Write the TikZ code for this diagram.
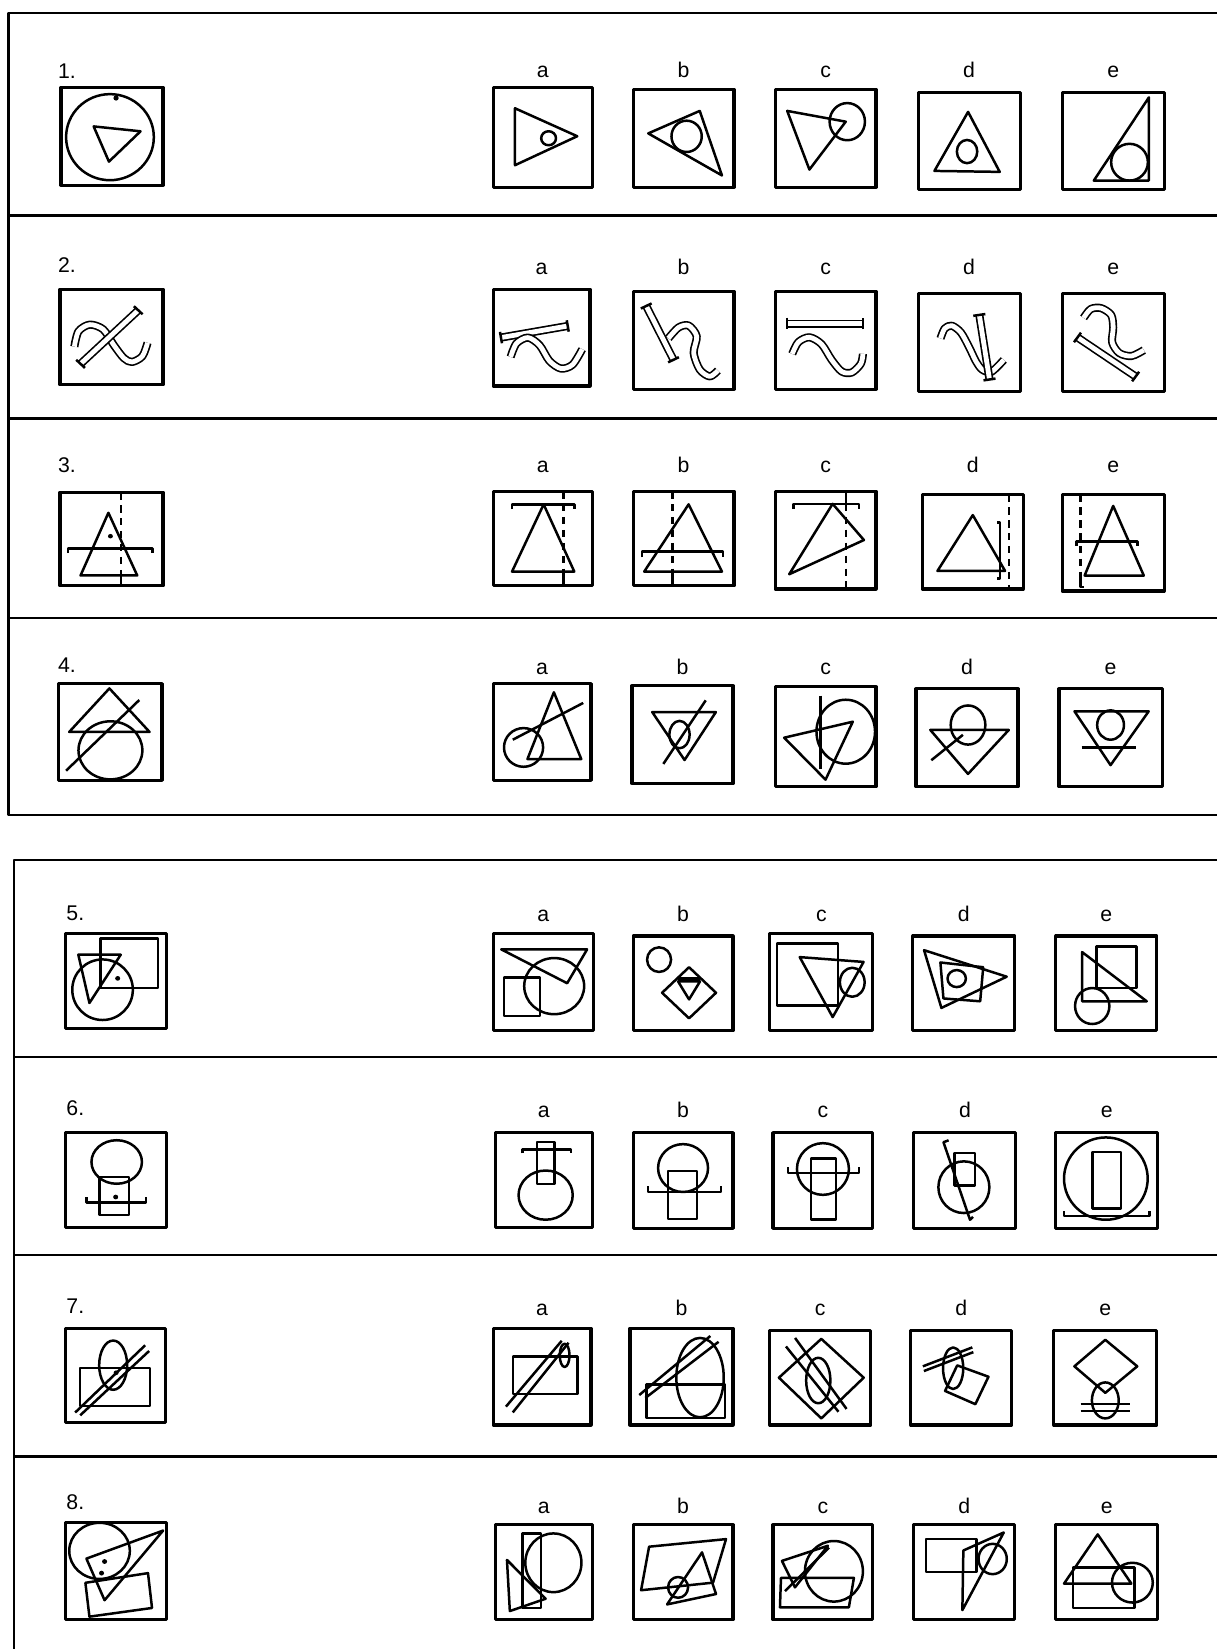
\documentclass[tikz,border=0pt]{standalone}
\usepackage{fontspec}
\setmainfont{Liberation Sans}
\usetikzlibrary{calc}

\tikzset{
  boxline/.style={line width=1.7pt},
  panel/.style={line width=1.2pt},
  tube/.style={double=white,double distance=2.6pt,line width=0.9pt},
  dashline/.style={dash pattern=on 4pt off 3pt},
  lbl/.style={font=\fontsize{11.5}{13}\selectfont,inner sep=0pt,anchor=base},
}

% one framed figure, inner coordinates 0..100 (y downwards)
\newcommand\figbox[5]{%
  \pgfmathsetmacro\sx{(#3-#1)/100}\pgfmathsetmacro\sy{(#4-#2)/100}%
  \begin{scope}[shift={(#1,#2)},xscale=\sx,yscale=\sy]
    \draw[boxline] (0,0) rectangle (100,100);
    #5
  \end{scope}}
\newcommand\ansbox[8]{%
  \node[lbl] (#1) at ({(#4+#6)/2},#3) {#2};
  \figbox{#4}{#5}{#6}{#7}{#8}}
\newcommand\tubebar[2]{%
  \draw[tube] #1 -- #2;
  \draw ($#1!3.4pt!90:#2$) -- ($#1!3.4pt!-90:#2$);
  \draw ($#2!3.4pt!90:#1$) -- ($#2!3.4pt!-90:#1$);}

\begin{document}
\begin{tikzpicture}[x=0.02cm,y=-0.02cm,line width=1.35pt,line join=round]
  \useasboundingbox[fill=white] (0,0) rectangle (1157,1568);

  % panels
  \draw[panel] (1157,12) -- (8,12) -- (8,775) -- (1157,775);
  \foreach \y in {205,398,588} \draw[panel] (8,\y) -- (1157,\y);
  \draw[panel] (1157,818) -- (13,818) -- (13,1568);
  \foreach \y in {1005,1193,1385} \draw[panel] (13,\y) -- (1157,\y);

  % row 1
  \node[lbl,anchor=base west] (n1) at (54,75) {1.};
  \figbox{58}{83}{155}{176}{
    \draw (48,51) ellipse[x radius=43,y radius=44];
    \fill (54,11) circle[radius=2.6];
    \draw (32,40) -- (78,45) -- (47,76) -- cycle;}
  \ansbox{r1a}{a}{74}{469}{83}{563}{178}{
    \draw (22,21) -- (85,49) -- (22,78) -- cycle;
    \draw (56,51) ellipse[x radius=7.5,y radius=7];}
  \ansbox{r1b}{b}{74}{602}{85}{698}{178}{
    \draw (15,45) -- (66,22) -- (88,88) -- cycle;
    \draw (53,48) ellipse[x radius=15,y radius=16];}
  \ansbox{r1c}{c}{74}{737}{85}{833}{178}{
    \draw (12,22) -- (70,33) -- (34,82) -- cycle;
    \draw (71.5,33) ellipse[x radius=17.5,y radius=19];}
  \ansbox{r1d}{d}{74}{873}{88}{970}{180}{
    \draw (49,20) -- (16,81) -- (80,82) -- cycle;
    \draw (48,61) ellipse[x radius=10,y radius=12];}
  \ansbox{r1e}{e}{74}{1010}{88}{1107}{180}{
    \draw (85,5) -- (31,91) -- (85,91) -- cycle;
    \draw (66,72) ellipse[x radius=18,y radius=19];}

  % row 2
  \node[lbl,anchor=base west] (n2) at (54,259) {2.};
  \figbox{57}{275}{155}{366}{
    \draw[tube] plot[smooth] coordinates {(14,60) (18,44) (29,37) (42,42) (52,58) (62,72) (70,76) (80,70) (85,56)};
    \tubebar{(20,78)}{(76,22)}}
  \ansbox{r2a}{a}{261}{469}{275}{561}{367}{
    \tubebar{(8,50)}{(77,38)}
    \draw[tube] plot[smooth] coordinates {(18,70) (24,56) (36,50) (48,58) (58,74) (70,82) (82,78) (92,62)};}
  \ansbox{r2b}{b}{261}{602}{277}{698}{370}{
    \tubebar{(13,15)}{(40,70)}
    \draw[tube] plot[smooth] coordinates {(35,48) (45,37) (55,35) (63,46) (60,63) (66,80) (76,87) (84,81)};}
  \ansbox{r2c}{c}{261}{737}{277}{833}{370}{
    \tubebar{(12,33)}{(87,33)}
    \draw[tube] plot[smooth] coordinates {(17,64) (23,52) (34,47) (46,54) (56,70) (66,82) (76,83) (85,74) (87,64)};}
  \ansbox{r2d}{d}{261}{873}{279}{970}{372}{
    \draw[tube] plot[smooth] coordinates {(22,46) (26,36) (33,33) (42,40) (50,55) (57,70) (63,78) (72,80) (84,68)};
    \tubebar{(60,22)}{(70,88)}}
  \ansbox{r2e}{e}{261}{1010}{279}{1107}{372}{
    \tubebar{(15,45)}{(72,85)}
    \draw[tube] plot[smooth] coordinates {(21,25) (28,16) (38,15) (48,22) (50,35) (49,50) (56,61) (68,64) (80,58)};}

  % row 3
  \node[lbl,anchor=base west] (n3) at (54,449) {3.};
  \figbox{57}{468}{155}{557}{
    \draw (47,22) -- (20,89) -- (75,89) -- cycle;
    \draw (8,65) -- (8,60) -- (90,60) -- (90,65);
    \draw[dashline] (59,0) -- (59,89);
    \draw (59,89) -- (59,100);
    \fill (49,47) circle[radius=2.4];}
  \ansbox{r3a}{a}{449}{469}{467}{563}{557}{
    \draw (19,19) -- (19,14) -- (82,14) -- (82,19);
    \draw (51,14) -- (19,85) -- (82,85) -- cycle;
    \draw[dashline] (71,0) -- (71,85);
    \draw (71,85) -- (71,100);}
  \ansbox{r3b}{b}{449}{602}{467}{698}{557}{
    \draw (55,14) -- (11,85) -- (88,85) -- cycle;
    \draw (9,70) -- (9,64) -- (89,64) -- (89,70);
    \draw[dashline] (39,0) -- (39,85);
    \draw (39,85) -- (39,100);}
  \ansbox{r3c}{c}{449}{737}{467}{833}{560}{
    \draw (18,18) -- (18,13) -- (83,13) -- (83,18);
    \draw (57,13) -- (88,50) -- (14,85) -- cycle;
    \draw (70,0) -- (70,13);
    \draw[dashline] (70,13) -- (70,100);}
  \ansbox{r3d}{d}{449}{877}{470}{973}{560}{
    \draw (50,22) -- (15,81) -- (82,81) -- cycle;
    \draw (74,30) -- (77,30) -- (77,89) -- (74,89);
    \draw[dashline] (86,0) -- (86,100);}
  \ansbox{r3e}{e}{449}{1010}{470}{1107}{562}{
    \draw (50,12) -- (22,84) -- (80,84) -- cycle;
    \draw (14,53) -- (14,49) -- (74,49) -- (74,53);
    \draw[dashline] (18,0) -- (18,80);
    \draw (18,80) -- (18,96) -- (21,96);}

  % row 4
  \node[lbl,anchor=base west] (n4) at (54,639) {4.};
  \figbox{56}{650}{154}{742}{
    \draw (49,5) -- (10,50) -- (88,50) -- cycle;
    \draw (50,69) ellipse[x radius=31,y radius=30];
    \draw (7,90) -- (78,17);}
  \ansbox{r4a}{a}{641}{469}{650}{562}{742}{
    \draw (62,9) -- (35,78) -- (90,78) -- cycle;
    \draw (31,66) ellipse[x radius=20,y radius=20];
    \draw (20,58) -- (92,20);}
  \ansbox{r4b}{b}{641}{601}{652}{697}{745}{
    \draw (20,27) -- (83,27) -- (52,76) -- cycle;
    \draw (47,50) ellipse[x radius=10,y radius=14];
    \draw (31,80) -- (73,15);}
  \ansbox{r4c}{c}{641}{737}{653}{833}{748}{
    \draw (9,51) -- (77,35) -- (50,93) -- cycle;
    \draw (70,45) ellipse[x radius=29,y radius=32];
    \draw (45,9) -- (45,82);}
  \ansbox{r4d}{d}{641}{871}{655}{968}{748}{
    \draw (14,42) -- (91,42) -- (51,87) -- cycle;
    \draw (51,37) ellipse[x radius=17,y radius=20];
    \draw (15,73) -- (46,47);}
  \ansbox{r4e}{e}{641}{1007}{655}{1105}{748}{
    \draw (15,23) -- (87,23) -- (50,78) -- cycle;
    \draw (50,37) ellipse[x radius=13,y radius=15];
    \draw (22,60) -- (75,60);}

  % row 5
  \node[lbl,anchor=base west] (n5) at (62,875) {5.};
  \figbox{62}{888}{158}{978}{
    \draw (37,59) ellipse[x radius=30,y radius=32];
    \draw (35,5) rectangle (92,57);
    \draw (13,22) -- (55,22) -- (24,73) -- cycle;
    \fill (52,47) circle[radius=2.5];}
  \ansbox{r5a}{a}{876}{469}{888}{564}{980}{
    \draw (8,16) -- (94,16) -- (74,51) -- cycle;
    \draw (61,54) ellipse[x radius=30,y radius=29];
    \draw (11,45) rectangle (47,85);}
  \ansbox{r5b}{b}{876}{602}{890}{697}{980}{
    \draw (26,25) ellipse[x radius=12,y radius=13];
    \draw (56,33) -- (83,60) -- (56,87) -- (29,60) -- cycle;
    \draw (45,48) -- (67,48) -- (56,67) -- cycle;
    \draw (45,45) -- (67,45);}
  \ansbox{r5c}{c}{876}{732}{888}{830}{980}{
    \draw (7,10) rectangle (66,74);
    \draw (29,24) -- (91,29) -- (61,86) -- cycle;
    \draw (80,50) ellipse[x radius=12,y radius=15];}
  \ansbox{r5d}{d}{876}{868}{890}{965}{980}{
    \draw (11,15) -- (92,43) -- (28,76) -- cycle;
    \draw (27,28) -- (69,33) -- (66,69) -- (30,66) -- cycle;
    \draw (43,45) ellipse[x radius=9,y radius=9];}
  \ansbox{r5e}{e}{876}{1004}{890}{1100}{980}{
    \draw (40,11) rectangle (80,55);
    \draw (26,17) -- (26,69) -- (90,69) -- cycle;
    \draw (36,74) ellipse[x radius=17,y radius=19];}

  % row 6
  \node[lbl,anchor=base west] (n6) at (62,1061) {6.};
  \figbox{62}{1077}{158}{1167}{
    \draw (51,31) ellipse[x radius=25,y radius=23];
    \draw (34,47) rectangle (63,87);
    \draw (21,68) -- (21,74) -- (80,74) -- (80,68);
    \fill (50,68) circle[radius=2.5];}
  \ansbox{r6a}{a}{1063}{471}{1077}{563}{1167}{
    \draw (43,10) rectangle (61,54);
    \draw (28,22) -- (28,18) -- (78,18) -- (78,22);
    \draw (52,66) ellipse[x radius=28,y radius=26];}
  \ansbox{r6b}{b}{1063}{602}{1077}{697}{1168}{
    \draw (50,37) ellipse[x radius=25,y radius=25];
    \draw (35,40) rectangle (64,90);
    \draw (15,56) -- (15,62) -- (88,62) -- (88,56);}
  \ansbox{r6c}{c}{1063}{735}{1077}{830}{1168}{
    \draw (50,38) ellipse[x radius=26,y radius=27];
    \draw (38,27) rectangle (63,91);
    \draw (15,36) -- (15,42) -- (86,42) -- (86,36);}
  \ansbox{r6d}{d}{1063}{869}{1077}{966}{1168}{
    \draw (49,57) ellipse[x radius=25,y radius=27];
    \draw (40,21) rectangle (60,55);
    \draw (34,8) -- (29,10) -- (55,91) -- (58,88);}
  \ansbox{r6e}{e}{1063}{1004}{1077}{1101}{1168}{
    \draw (49,48) ellipse[x radius=41,y radius=43];
    \draw (36,20) rectangle (64,79);
    \draw (8,82) -- (8,87) -- (92,87) -- (92,82);}

  % row 7
  \node[lbl,anchor=base west] (n7) at (62,1249) {7.};
  \figbox{62}{1263}{157}{1353}{
    \draw (15,42) rectangle (85,82);
    \draw (48,39) ellipse[x radius=14,y radius=26];
    \draw (10,89) -- (80,18);
    \draw (15,92) -- (84,24);
    \fill (51,47) circle[radius=2.5];}
  \ansbox{r7a}{a}{1251}{469}{1263}{562}{1355}{
    \draw (20,29) rectangle (86,68);
    \draw (13,81) -- (70,13);
    \draw (20,87) -- (77,15);
    \draw (73,28) ellipse[x radius=5,y radius=12];}
  \ansbox{r7b}{b}{1251}{599}{1263}{697}{1355}{
    \draw (68,51) ellipse[x radius=23,y radius=41];
    \draw (16,58) rectangle (92,93);
    \draw (9,69) -- (78,8);
    \draw (15,72) -- (86,14);}
  \ansbox{r7c}{c}{1251}{732}{1265}{828}{1355}{
    \draw (51,9) -- (93,50) -- (51,93) -- (9,50) -- cycle;
    \draw (48,53) ellipse[x radius=12,y radius=24];
    \draw (16,17) -- (68,86);
    \draw (25,8) -- (76,83);}
  \ansbox{r7d}{d}{1251}{866}{1265}{962}{1355}{
    \draw (46,37) -- (77,49) -- (64,78) -- (34,64) -- cycle;
    \draw (42,40) ellipse[x radius=10,y radius=22];
    \draw (12,38) -- (61,18);
    \draw (13,43) -- (62,23);}
  \ansbox{r7e}{e}{1251}{1002}{1265}{1100}{1355}{
    \draw (50,10) -- (81,38) -- (50,66) -- (20,38) -- cycle;
    \draw (50,74) ellipse[x radius=13,y radius=19];
    \draw (26,78) -- (74,78);
    \draw (26,85) -- (74,85);}

  % row 8
  \node[lbl,anchor=base west] (n8) at (62,1435) {8.};
  \figbox{62}{1448}{158}{1540}{
    \draw (34,29) ellipse[x radius=30,y radius=29];
    \draw (21,37) -- (97,8) -- (39,80) -- cycle;
    \draw (20,62) -- (82,52) -- (86,88) -- (24,97) -- cycle;
    \fill (39,40) circle[radius=2.5];
    \fill (36,52) circle[radius=2.5];}
  \ansbox{r8a}{a}{1439}{471}{1450}{563}{1540}{
    \draw (28,9) rectangle (47,88);
    \draw (60,40) ellipse[x radius=29,y radius=31];
    \draw (12,37) -- (52,78) -- (15,91) -- cycle;}
  \ansbox{r8b}{b}{1439}{602}{1450}{697}{1540}{
    \draw (16,23) -- (93,15) -- (80,61) -- (8,69) -- cycle;
    \draw (69,29) -- (83,73) -- (34,84) -- cycle;
    \draw (45,66) ellipse[x radius=10,y radius=11];}
  \ansbox{r8c}{c}{1439}{735}{1450}{830}{1540}{
    \draw (61,49) ellipse[x radius=29,y radius=32];
    \draw (7,87) -- (76,87) -- (81,56) -- (8,56) -- cycle;
    \draw (9,38) -- (55,22) -- (22,66) -- cycle;
    \draw (12,70) -- (56,24);}
  \ansbox{r8d}{d}{1439}{869}{1450}{965}{1540}{
    \draw (12,15) rectangle (62,50);
    \draw (89,8) -- (48,90) -- (49,27) -- cycle;
    \draw (78,36) ellipse[x radius=14,y radius=16];}
  \ansbox{r8e}{e}{1439}{1004}{1450}{1101}{1540}{
    \draw (41,10) -- (8,62) -- (74,62) -- cycle;
    \draw (17,45) rectangle (77,88);
    \draw (75,61) ellipse[x radius=20,y radius=21];}
\end{tikzpicture}
\end{document}
